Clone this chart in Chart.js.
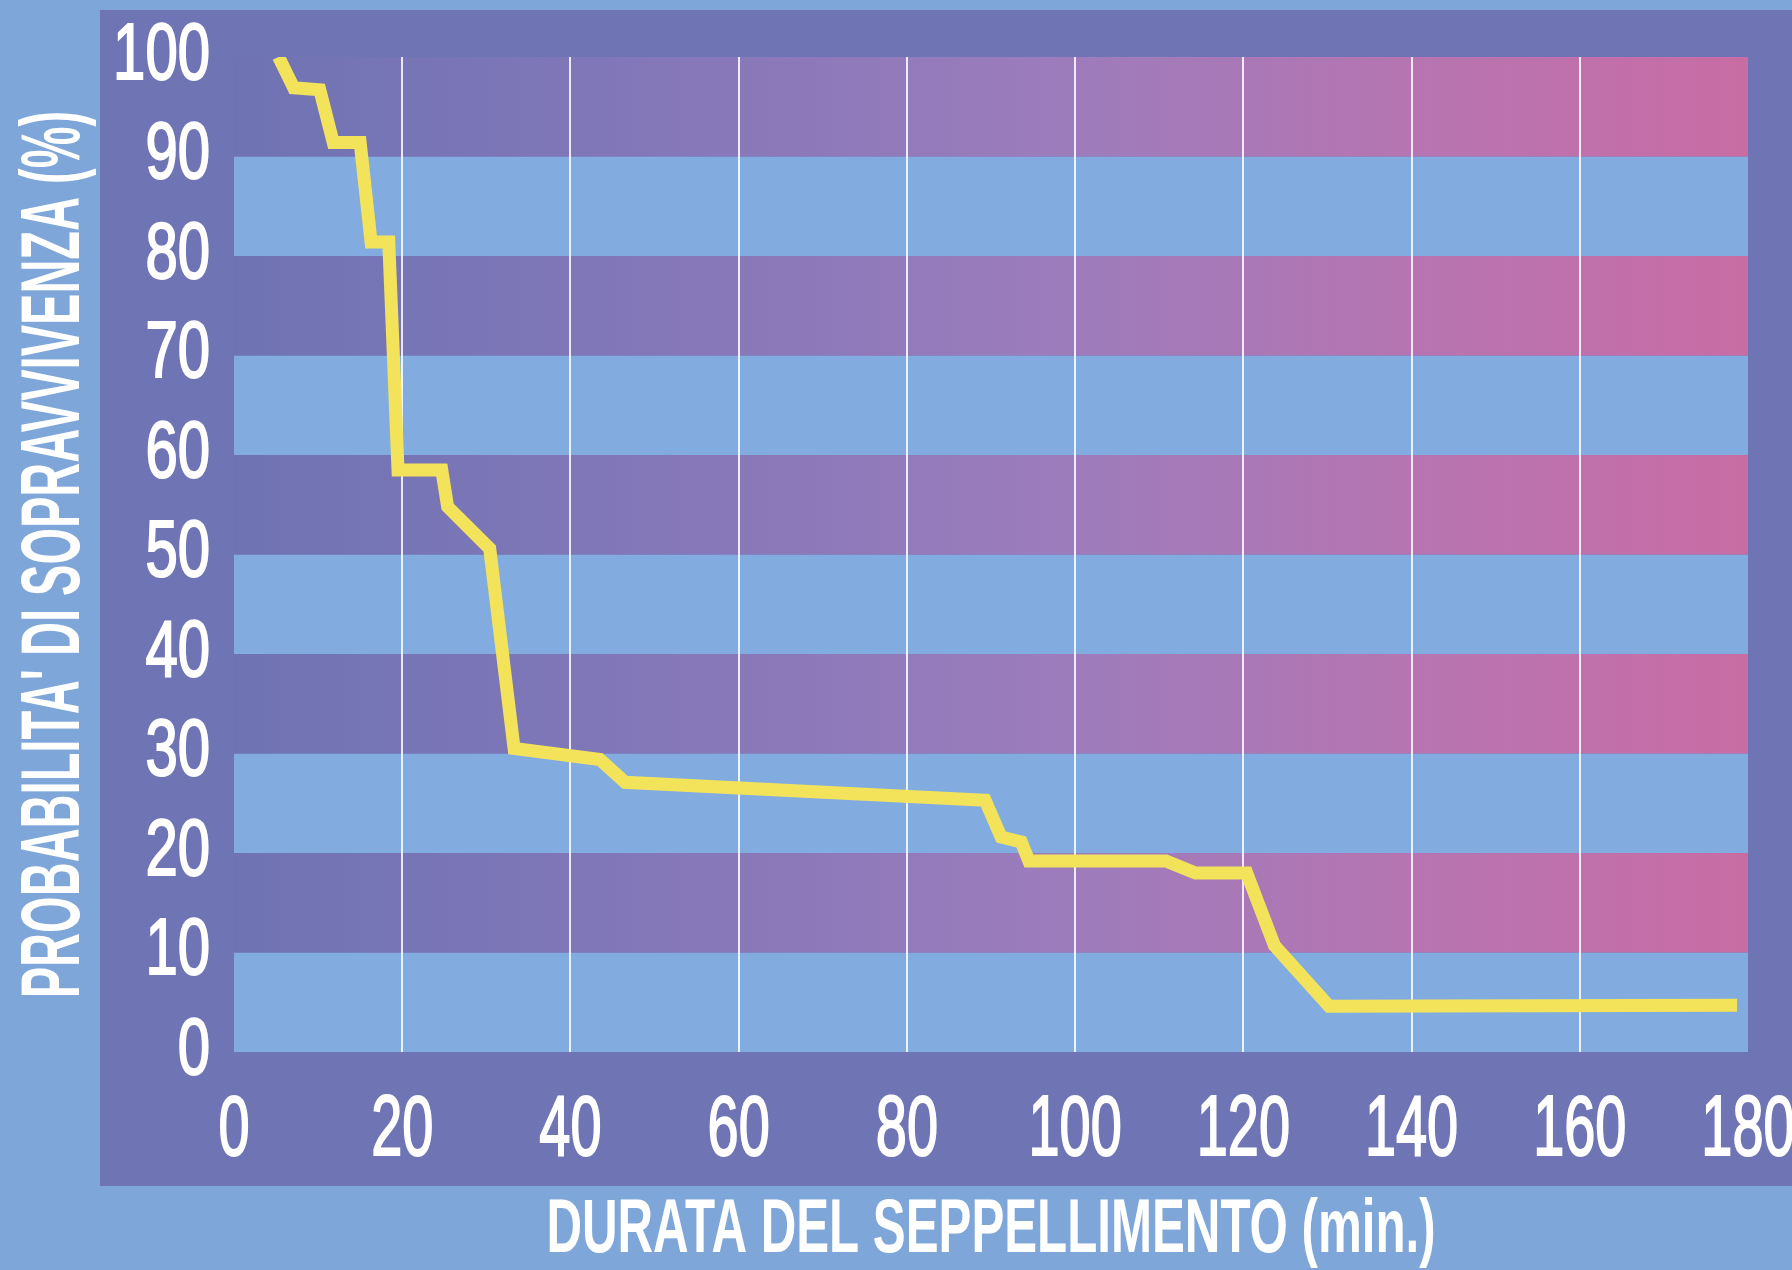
<!DOCTYPE html>
<html>
<head>
<meta charset="utf-8">
<script src="https://cdn.jsdelivr.net/npm/chart.js@4"></script>
<style>
  html, body { margin: 0; padding: 0; background: #7ea6d8; }
  #wrap { width: 1792px; height: 1270px; }
  canvas { display: block; }
</style>
</head>
<body>
<div id="wrap"><canvas id="c" width="1792" height="1270"></canvas></div>
<script>
// ---- data ----
const minutes  = [5.3, 7.1, 10.2, 11.8, 15.0, 16.3, 18.4, 19.5, 24.7, 25.4, 30.4, 33.3, 43.5, 46.5, 89.3, 91.2, 93.6, 94.5, 110.8, 114.3, 120.4, 123.7, 130.2, 178.7];
const survival = [100, 96.9, 96.7, 91.4, 91.4, 81.4, 81.4, 58.5, 58.5, 54.8, 50.6, 30.5, 29.4, 27.1, 25.3, 21.6, 21.1, 19.2, 19.2, 18.0, 18.0, 10.7, 4.6, 4.7];
const xTicks = [0, 20, 40, 60, 80, 100, 120, 140, 160, 180];
const yTicks = [0, 10, 20, 30, 40, 50, 60, 70, 80, 90, 100];
const xTitle = 'DURATA DEL SEPPELLIMENTO (min.)';
const yTitle = "PROBABILITA' DI SOPRAVVIVENZA (%)";

const FONT = "'Liberation Sans', Arial, sans-serif";
// horizontal condensing per font size (imitates the condensed typeface of the original)
const CONDENSE = { 79: 0.735, 86: 0.65, 84: 0.56, 76: 0.648 };

const points = minutes.map((m, i) => ({ x: m, y: survival[i] }));

const condensePlugin = {
  id: 'condense',
  beforeInit(chart) {
    const ctx = chart.ctx;
    const wrap = (name) => {
      const orig = ctx[name].bind(ctx);
      ctx[name] = function (text, x, y, maxWidth) {
        const s = String(text);
        const m = /(\d+(?:\.\d+)?)px/.exec(ctx.font);
        const f = m && CONDENSE[Math.round(parseFloat(m[1]))];
        if (!f) { return maxWidth === undefined ? orig(s, x, y) : orig(s, x, y, maxWidth); }
        let w = ctx.measureText(s).width * f;
        if (maxWidth !== undefined && maxWidth < w) w = maxWidth;
        orig(s, x, y, w);
      };
    };
    wrap('fillText');
    wrap('strokeText');
  }
};

const bgPlugin = {
  id: 'bg',
  beforeDraw(chart) {
    const ctx = chart.ctx;
    const { left, right } = chart.chartArea;
    const ys = chart.scales.y;
    ctx.save();
    // dark panel behind the plot
    ctx.fillStyle = '#6e74b4';
    ctx.fillRect(100, 10, chart.width - 100, 1176);
    // horizontal bands
    const grad = ctx.createLinearGradient(left, 0, right, 0);
    grad.addColorStop(0.00, '#6f73b3');
    grad.addColorStop(0.25, '#8177b8');
    grad.addColorStop(0.55, '#9d7cbc');
    grad.addColorStop(0.80, '#b874b0');
    grad.addColorStop(1.00, '#c96ca4');
    for (let k = 0; k < yTicks.length - 1; k++) {
      const yTop = ys.getPixelForValue(yTicks[k + 1]);
      const yBot = ys.getPixelForValue(yTicks[k]);
      ctx.fillStyle = (k % 2 === 0) ? '#82acdf' : grad;
      ctx.fillRect(left, yTop, right - left, yBot - yTop);
    }
    ctx.restore();
  }
};

new Chart(document.getElementById('c'), {
  type: 'scatter',
  data: {
    datasets: [{
      data: points,
      showLine: true,
      borderColor: '#f3e35a',
      borderWidth: 13,
      pointRadius: 0,
      pointHoverRadius: 0,
      tension: 0,
      borderJoinStyle: 'miter',
      borderCapStyle: 'butt',
      fill: false
    }]
  },
  options: {
    responsive: false,
    animation: false,
    events: [],
    layout: { padding: { left: 0, top: 57, right: 44, bottom: 0 } },
    plugins: { legend: { display: false }, tooltip: { enabled: false } },
    scales: {
      x: {
        type: 'linear',
        min: 0, max: 180,
        afterBuildTicks: s => { s.ticks = xTicks.map(v => ({ value: v })); },
        afterFit: s => { s.height = 218; s.paddingLeft = 0; s.paddingRight = 0; },
        border: { display: false },
        grid: {
          drawTicks: false,
          lineWidth: 2,
          color: c => (c.tick && c.tick.value > 0 && c.tick.value < 180) ? 'rgba(255,255,255,0.85)' : 'rgba(0,0,0,0)'
        },
        ticks: {
          color: '#ffffff',
          textStrokeColor: '#ffffff',
          textStrokeWidth: 2,
          padding: 28,
          maxRotation: 0,
          autoSkip: false,
          font: { family: FONT, size: 86 }
        },
        title: {
          display: true,
          text: xTitle,
          color: '#ffffff',
          font: { family: FONT, size: 76, weight: 'bold', lineHeight: 1.0 },
          padding: { top: 0, bottom: 1 }
        }
      },
      y: {
        type: 'linear',
        min: 0, max: 100,
        afterBuildTicks: s => { s.ticks = yTicks.map(v => ({ value: v })); },
        afterFit: s => { s.width = 234; s.paddingTop = 0; s.paddingBottom = 0; },
        border: { display: false },
        grid: { display: false, drawTicks: false },
        ticks: {
          color: '#ffffff',
          textStrokeColor: '#ffffff',
          textStrokeWidth: 2,
          padding: 24,
          autoSkip: false,
          font: { family: FONT, size: 79 }
        },
        title: {
          display: true,
          text: yTitle,
          color: '#ffffff',
          font: { family: FONT, size: 84, weight: 'bold', lineHeight: 1.0 },
          padding: { top: 14, bottom: 0 }
        }
      }
    }
  },
  plugins: [condensePlugin, bgPlugin]
});
</script>
</body>
</html>
